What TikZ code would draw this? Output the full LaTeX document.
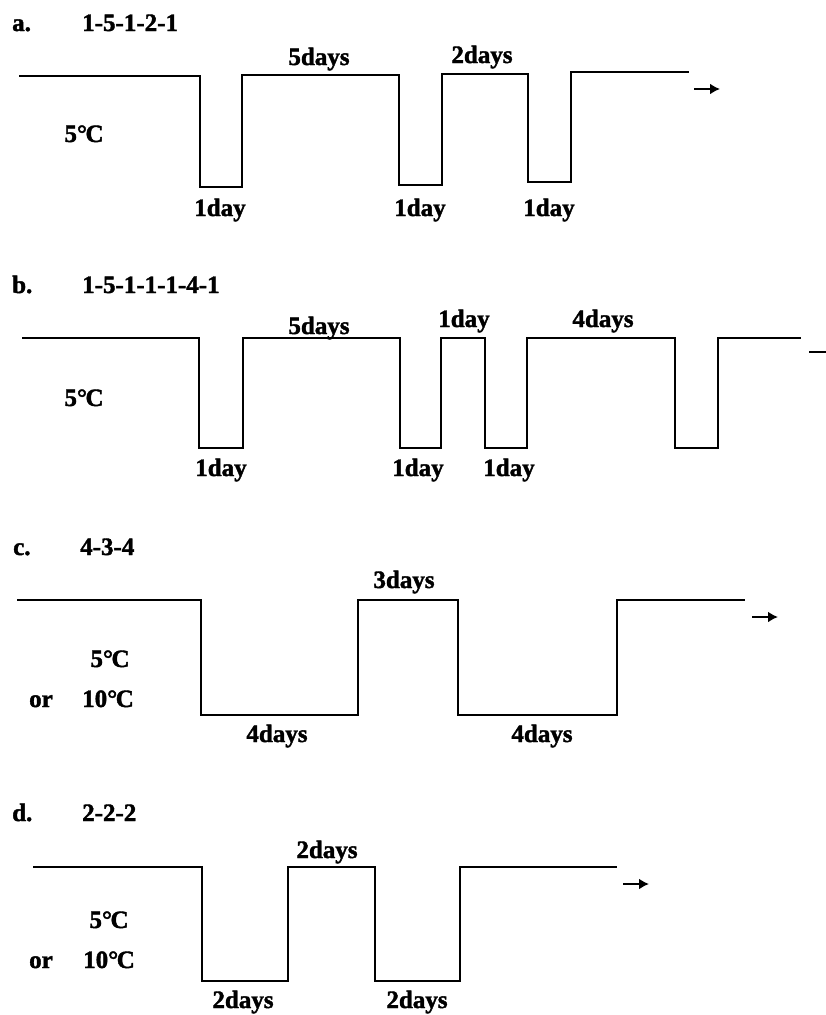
\documentclass[tikz,border=0pt]{standalone}
\usepackage{fontspec}
\setmainfont[BoldFeatures={FakeBold=1.6}]{Liberation Serif}
\usetikzlibrary{arrows.meta}
\newcommand{\degC}{°\kern-1.5pt C}
\begin{document}
\begin{tikzpicture}[x=1pt,y=-1pt,
  lbl/.style={anchor=base,inner sep=0pt,font=\fontsize{25}{30}\selectfont\bfseries},
  lbll/.style={lbl,anchor=base west},
  wave/.style={line width=1.3pt,line join=miter},
  goarrow/.style={line width=2.6pt,-{Latex[length=10pt,width=11pt]}}]
\useasboundingbox (0,0) rectangle (826,1015);
% ---------- a ----------
\node[lbll] (la) at (12,31) {a.};
\node[lbll] (ta) at (82,31) {1-5-1-2-1};
\draw[wave] (19,76)--(200,76)--(200,187)--(242,187)--(242,75)--(399,75)--(399,185)--(442,185)--(442,74)--(528,74)--(528,182)--(571,182)--(571,72)--(689,72);
\node[lbl] (a5d) at (319,65) {5days};
\node[lbl] (a2d) at (482,63) {2days};
\node[lbl] (a1d1) at (220,216) {1day};
\node[lbl] (a1d2) at (420,216) {1day};
\node[lbl] (a1d3) at (549,216) {1day};
\node[lbl] (aT) at (84,142) {5\degC};
\coordinate (aa1) at (694,89); \coordinate (aa2) at (720,89);
\draw[goarrow] (aa1)--(aa2);
% ---------- b ----------
\node[lbll] (lb) at (12,293) {b.};
\node[lbll] (tb) at (82,293) {1-5-1-1-1-4-1};
\draw[wave] (22,338)--(199,338)--(199,448)--(243,448)--(243,338)--(400,338)--(400,448)--(441,448)--(441,338)--(485,338)--(485,448)--(527,448)--(527,338)--(675,338)--(675,448)--(718,448)--(718,338)--(801,338);
\node[lbl] (b5d) at (319,334) {5days};
\node[lbl] (b1dt) at (464,327) {1day};
\node[lbl] (b4d) at (603,327) {4days};
\node[lbl] (b1d1) at (221,476) {1day};
\node[lbl] (b1d2) at (418,476) {1day};
\node[lbl] (b1d3) at (509,476) {1day};
\node[lbl] (bT) at (84,406) {5\degC};
\coordinate (ba1) at (809,352); \coordinate (ba2) at (836,352);
\draw[goarrow] (ba1)--(ba2);
% ---------- c ----------
\node[lbll] (lc) at (13,555) {c.};
\node[lbll] (tc) at (80,555) {4-3-4};
\draw[wave] (17,600)--(201,600)--(201,715)--(358,715)--(358,600)--(458,600)--(458,715)--(617,715)--(617,600)--(745,600);
\node[lbl] (c3d) at (404,588) {3days};
\node[lbl] (c4d1) at (277,742) {4days};
\node[lbl] (c4d2) at (542,742) {4days};
\node[lbl] (cT1) at (110,667) {5\degC};
\node[lbl] (cor) at (41,707) {or};
\node[lbl] (cT2) at (108,707) {10\degC};
\coordinate (ca1) at (752,617); \coordinate (ca2) at (778,617);
\draw[goarrow] (ca1)--(ca2);
% ---------- d ----------
\node[lbll] (ld) at (12,821) {d.};
\node[lbll] (td) at (82,821) {2-2-2};
\draw[wave] (33,867)--(202,867)--(202,981)--(288,981)--(288,867)--(375,867)--(375,981)--(460,981)--(460,867)--(617,867);
\node[lbl] (d2dt) at (327,858) {2days};
\node[lbl] (d2d1) at (243,1008) {2days};
\node[lbl] (d2d2) at (417,1008) {2days};
\node[lbl] (dT1) at (109,928) {5\degC};
\node[lbl] (dor) at (41,968) {or};
\node[lbl] (dT2) at (109,968) {10\degC};
\coordinate (da1) at (623,884); \coordinate (da2) at (649,884);
\draw[goarrow] (da1)--(da2);
\end{tikzpicture}
\end{document}
